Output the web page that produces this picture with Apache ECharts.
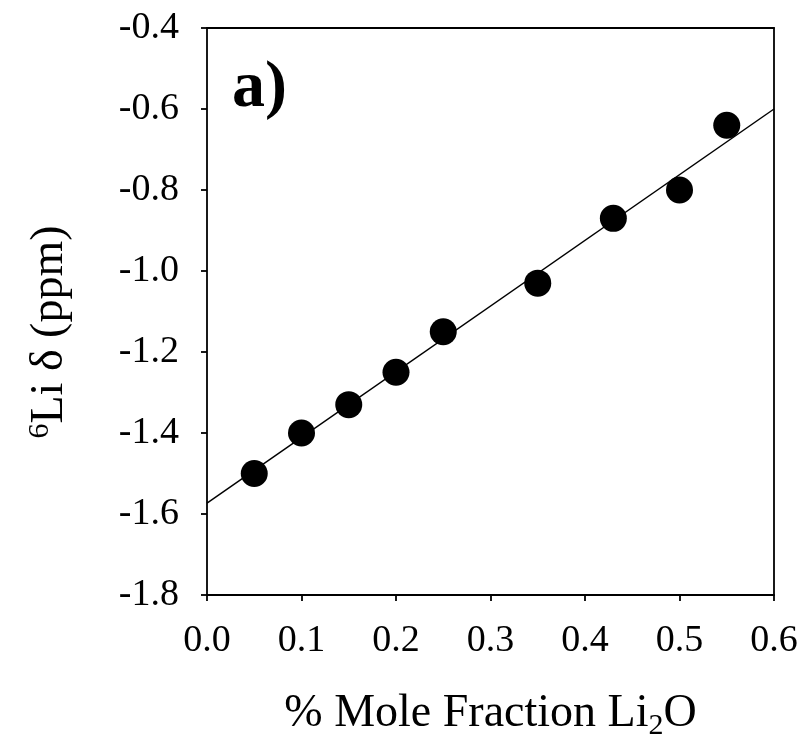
<!DOCTYPE html>
<html>
<head>
<meta charset="utf-8">
<script src="https://cdn.jsdelivr.net/npm/echarts@6/dist/echarts.min.js"></script>
<style>
  html, body { margin: 0; padding: 0; background: #fff; }
  #chart { width: 803px; height: 741px; }
</style>
</head>
<body>
<div id="chart"></div>
<script>
// measured points
var moleFraction = [0.05, 0.10, 0.15, 0.20, 0.25, 0.35, 0.43, 0.50, 0.55];
var shiftPpm = [-1.50, -1.40, -1.33, -1.25, -1.15, -1.03, -0.87, -0.80, -0.64];
// linear fit endpoints
var fitX = [0.0, 0.6];
var fitY = [-1.573, -0.600];

var font = "'Liberation Serif', 'Times New Roman', serif";

var points = moleFraction.map(function (x, i) { return [x, shiftPpm[i]]; });
var fitLine = fitX.map(function (x, i) { return [x, fitY[i]]; });

var myChart = echarts.init(document.getElementById("chart"), null, { renderer: "canvas" });

var axisLineStyle = { color: "#000", width: 1.8 };

var option = {
  animation: false,
  backgroundColor: "#fff",
  grid: { left: 207, right: 29, top: 28, bottom: 146, outerBoundsMode: "none", containLabel: false },
  xAxis: [
    {
      type: "value",
      min: 0,
      max: 0.6,
      interval: 0.1,
      position: "bottom",
      axisLine: { show: true, onZero: false, lineStyle: axisLineStyle },
      axisTick: { show: true, length: 6, lineStyle: axisLineStyle },
      splitLine: { show: false },
      axisLabel: {
        margin: 27,
        color: "#000",
        fontFamily: font,
        fontSize: 38,
        formatter: function (v) { return v.toFixed(1); }
      },
      name: "% Mole Fraction Li{sub|2}O",
      nameLocation: "middle",
      nameGap: 92,
      nameTextStyle: {
        color: "#000",
        fontFamily: font,
        fontSize: 46,
        rich: {
          sub: { fontFamily: font, fontSize: 30, color: "#000", padding: [24, 0, 0, 0] }
        }
      }
    },
    {
      type: "value",
      min: 0,
      max: 0.6,
      position: "top",
      axisLine: { show: true, onZero: false, lineStyle: axisLineStyle },
      axisTick: { show: false },
      axisLabel: { show: false },
      splitLine: { show: false }
    }
  ],
  yAxis: [
    {
      type: "value",
      min: -1.8,
      max: -0.4,
      interval: 0.2,
      position: "left",
      axisLine: { show: true, onZero: false, lineStyle: axisLineStyle },
      axisTick: { show: true, length: 6, lineStyle: axisLineStyle },
      splitLine: { show: false },
      axisLabel: {
        margin: 28,
        color: "#000",
        fontFamily: font,
        fontSize: 38,
        formatter: function (v) { return v.toFixed(1); }
      }
    },
    {
      type: "value",
      min: -1.8,
      max: -0.4,
      position: "right",
      axisLine: { show: true, onZero: false, lineStyle: axisLineStyle },
      axisTick: { show: false },
      axisLabel: { show: false },
      splitLine: { show: false }
    }
  ],
  graphic: [
    {
      type: "text",
      left: 232,
      top: 56,
      style: {
        text: "a)",
        fill: "#000",
        font: "bold 66px " + font
      }
    },
    {
      type: "text",
      x: 50,
      y: 332,
      rotation: Math.PI / 2,
      style: {
        text: "{sup|6}Li \u03b4 (ppm)",
        fill: "#000",
        font: "46px " + font,
        align: "center",
        verticalAlign: "middle",
        rich: {
          sup: { font: "30px " + font, fill: "#000", padding: [0, 0, 20, 0] }
        }
      }
    }
  ],
  series: [
    {
      name: "fit",
      type: "line",
      data: fitLine,
      symbol: "none",
      lineStyle: { color: "#000", width: 1.5 },
      z: 2
    },
    {
      name: "data",
      type: "scatter",
      data: points,
      symbol: "circle",
      symbolSize: 27,
      itemStyle: { color: "#000", opacity: 1 },
      z: 3
    }
  ]
};

myChart.setOption(option);
window.addEventListener("resize", myChart.resize);
</script>
</body>
</html>
